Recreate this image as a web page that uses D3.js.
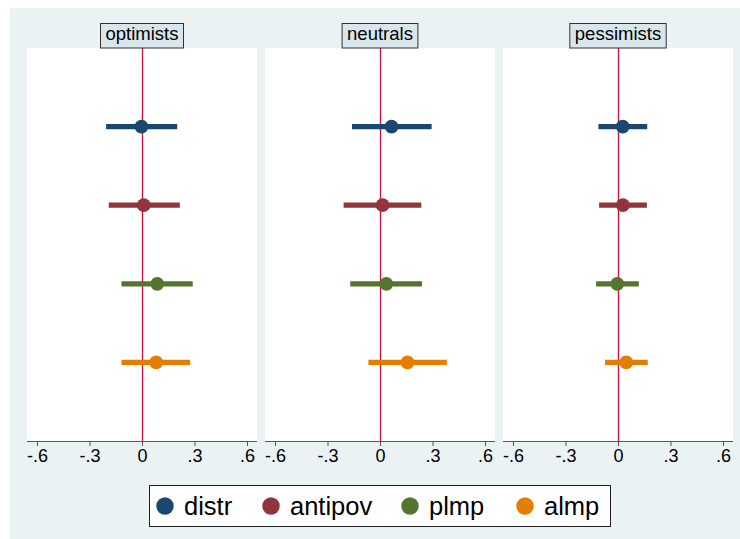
<!DOCTYPE html>
<html><head><meta charset="utf-8">
<script src="https://cdn.jsdelivr.net/npm/d3@7"></script>
<style>
html,body{margin:0;padding:0;background:#fff;}
svg{display:block;font-family:"Liberation Sans",Arial,Helvetica,sans-serif;}
</style></head>
<body>
<script>
// ---- data ----
const panels = ["optimists", "neutrals", "pessimists"];
const seriesNames = ["distr", "antipov", "plmp", "almp"];
const seriesColors = ["#1a476f", "#90353b", "#55752f", "#e37e00"];
const tickValues = [-0.6, -0.3, 0, 0.3, 0.6];
const tickLabels = ["-.6", "-.3", "0", ".3", ".6"];

// point estimates per panel (order: distr, antipov, plmp, almp)
const optimistsEst = [-0.003, 0.010, 0.087, 0.081];
const optimistsLo  = [-0.205, -0.190, -0.117, -0.117];
const optimistsHi  = [0.201, 0.216, 0.290, 0.275];

const neutralsEst = [0.066, 0.015, 0.036, 0.157];
const neutralsLo  = [-0.160, -0.208, -0.170, -0.066];
const neutralsHi  = [0.295, 0.236, 0.240, 0.382];

const pessimistsEst = [0.027, 0.028, -0.004, 0.047];
const pessimistsLo  = [-0.112, -0.108, -0.125, -0.074];
const pessimistsHi  = [0.167, 0.165, 0.119, 0.170];

const panelEst = [optimistsEst, neutralsEst, pessimistsEst];
const panelLo = [optimistsLo, neutralsLo, pessimistsLo];
const panelHi = [optimistsHi, neutralsHi, pessimistsHi];

// ---- layout ----
const W = 740, H = 539;
const svg = d3.select("body").append("svg").attr("width", W).attr("height", H);

svg.append("rect").attr("x", 10).attr("y", 8).attr("width", 730).attr("height", 531).attr("fill", "#eaf2f3");

const plotTop = 48, plotBottom = 441, panelW = 230, gap = 8, firstLeft = 27;
const y = d3.scaleLinear().domain([0, 5]).range([plotTop, plotBottom]);

panels.forEach((name, p) => {
  const left = firstLeft + p * (panelW + gap);
  const x = d3.scaleLinear().domain([-0.657, 0.657]).range([left, left + panelW]);
  const g = svg.append("g");

  g.append("rect").attr("x", left).attr("y", plotTop).attr("width", panelW)
    .attr("height", plotBottom - plotTop).attr("fill", "#ffffff");

  // zero line
  const zx = Math.round(x(0)) + 0.5;
  g.append("line").attr("x1", zx).attr("x2", zx).attr("y1", plotTop).attr("y2", plotBottom)
    .attr("stroke", "#c8103e").attr("stroke-width", 1.3);

  // CIs and points
  seriesNames.forEach((s, i) => {
    const yy = y(i + 1);
    g.append("line").attr("x1", x(panelLo[p][i])).attr("x2", x(panelHi[p][i]))
      .attr("y1", yy).attr("y2", yy).attr("stroke", seriesColors[i]).attr("stroke-width", 5.2);
    g.append("circle").attr("cx", x(panelEst[p][i])).attr("cy", yy).attr("r", 6.9)
      .attr("fill", seriesColors[i]);
  });

  // axis
  const axis = d3.axisBottom(x).tickValues(tickValues)
    .tickFormat((d, i) => tickLabels[i]).tickSize(5).tickSizeOuter(0).tickPadding(3);
  const ax = g.append("g").attr("transform", `translate(0,${plotBottom})`).call(axis);
  ax.select(".domain").attr("stroke", "#555").attr("stroke-width", 1).attr("d", `M${left},0.5H${left + panelW}`);
  ax.selectAll(".tick line").attr("stroke", "#555");
  ax.selectAll(".tick text").attr("font-size", 18).attr("fill", "#000")
    .attr("font-family", '"Liberation Sans",Arial,sans-serif');

  // strip label
  const cx = x(0);
  const lbl = g.append("text").attr("x", cx).attr("y", 40).attr("text-anchor", "middle")
    .attr("font-size", 18.5).attr("fill", "#000").text(name);
  const bb = lbl.node().getBBox();
  g.insert("rect", () => lbl.node()).attr("x", bb.x - 5).attr("y", 23.5).attr("width", bb.width + 10)
    .attr("height", 24.5).attr("fill", "#d9e6eb").attr("stroke", "#333").attr("stroke-width", 1);
});

// legend
const leg = svg.append("g");
leg.append("rect").attr("x", 149.5).attr("y", 485.5).attr("width", 461).attr("height", 41)
  .attr("fill", "#ffffff").attr("stroke", "#222").attr("stroke-width", 1);
const legCircleX = [165, 271, 410, 525];
seriesNames.forEach((s, i) => {
  leg.append("circle").attr("cx", legCircleX[i]).attr("cy", 506).attr("r", 8.7).attr("fill", seriesColors[i]);
  leg.append("text").attr("x", legCircleX[i] + 19).attr("y", 515).attr("font-size", 25.5)
    .attr("fill", "#000").text(s);
});
</script>
</body></html>
